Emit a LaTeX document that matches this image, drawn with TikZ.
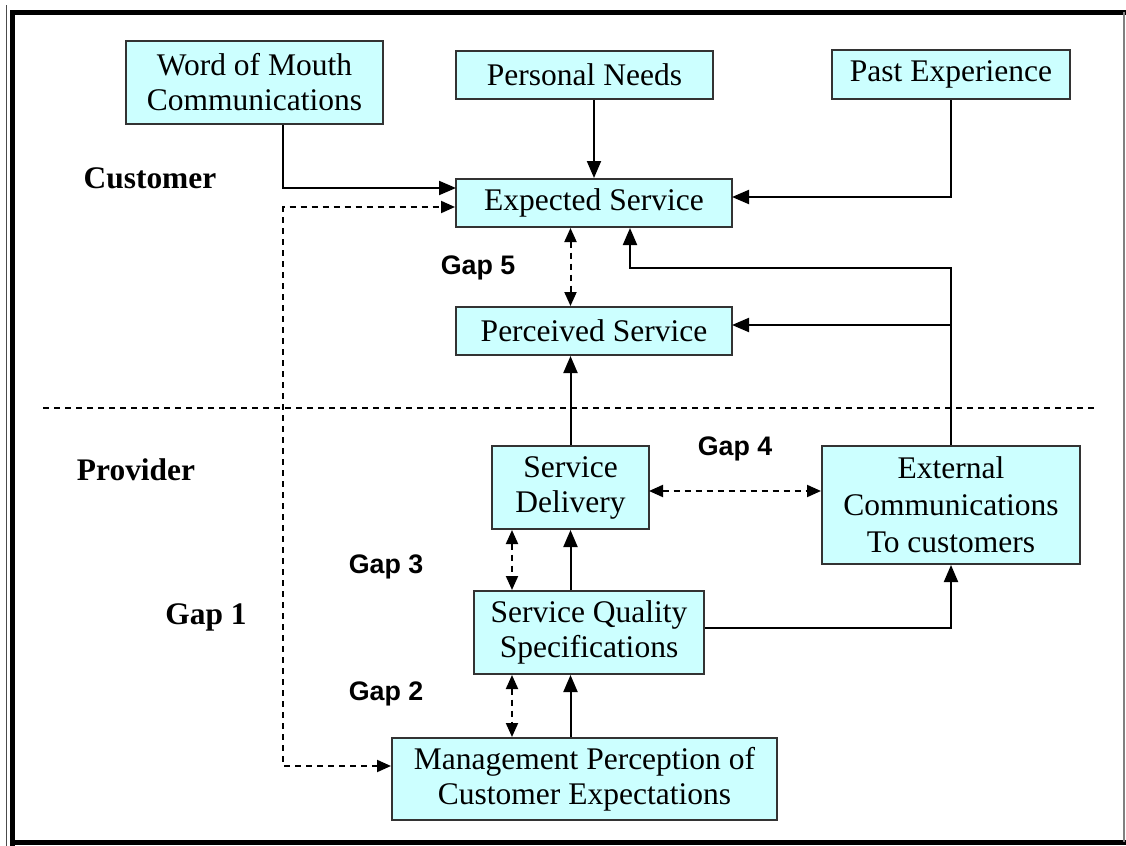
\documentclass[tikz,border=0pt]{standalone}
\usepackage{fontspec}
\setmainfont{Liberation Serif}
\setsansfont{Liberation Sans}
\usetikzlibrary{arrows.meta}
\definecolor{boxfill}{RGB}{204,255,255}

\begin{document}
\begin{tikzpicture}[x=0.5pt,y=-0.5pt,
    box/.style={draw=black!80,line width=1pt,fill=boxfill,inner sep=0pt,align=center,
      font=\fontsize{15.75}{17.5}\selectfont},
    conn/.style={line width=1pt,-{Triangle[length=8.5pt,width=7pt]}},
    gapline/.style={line width=1pt,dash pattern=on 3pt off 2.5pt,
      {Triangle[length=7pt,width=6pt]}-{Triangle[length=7pt,width=6pt]}},
    gaplabel/.style={font=\sffamily\bfseries\fontsize{13.4}{15}\selectfont},
    sidelabel/.style={font=\bfseries\fontsize{15.7}{17.5}\selectfont}]
  \useasboundingbox (0,0) rectangle (1126,846);
  % frame
  \draw[line width=2.5pt] (12.5,846) -- (12.5,12.5) -- (1126,12.5);
  \draw[line width=2.5pt] (12.5,842) -- (1126,842);
  \draw[line width=0.8pt,black!70] (6.5,5) -- (6.5,846);
  \draw[line width=0.8pt,black!50] (1124,12) -- (1124,842);
  % customer / provider split
  \draw[line width=1pt,dash pattern=on 3pt off 2.5pt] (43,408) -- (1098,408);

  \node[box,minimum width=128.5pt,minimum height=41.5pt] (wom) at (254.5,82.5) {Word of Mouth\\Communications};
  \node[box,minimum width=128.5pt,minimum height=24pt] (needs) at (584.5,75) {Personal Needs};
  \node[box,minimum width=119pt,minimum height=24.5pt] (past) at (951,74.5) {Past Experience};
  \node[box,minimum width=138pt,minimum height=24pt] (expected) at (594,203) {Expected Service};
  \node[box,minimum width=138pt,minimum height=24pt] (perceived) at (594,331) {Perceived Service};
  \node[box,minimum width=78.5pt,minimum height=41.5pt] (delivery) at (570.5,487.5) {Service\\Delivery};
  \node[box,minimum width=129pt,minimum height=59pt,font=\fontsize{15.75}{18.5}\selectfont] (extcomm) at (951,505) {External\\Communications\\To customers};
  \node[box,minimum width=115pt,minimum height=41.5pt] (sqs) at (589,632.5) {Service Quality\\Specifications};
  \node[box,minimum width=192.5pt,minimum height=41pt] (mgmt) at (584.5,779) {Management Perception of\\Customer Expectations};

  \node[sidelabel] (cust) at (150,178) {Customer};
  \node[sidelabel] (prov) at (136,470) {Provider};
  \node[sidelabel] (gap1) at (206,617) {Gap 1};
  \node[gaplabel] (gap5) at (478,268) {Gap 5};
  \node[gaplabel] (gap4) at (735,449) {Gap 4};
  \node[gaplabel] (gap3) at (386,567) {Gap 3};
  \node[gaplabel] (gap2) at (386,694) {Gap 2};

  \coordinate (womin) at (456,188);
  \coordinate (g1top) at (283,207);
  \coordinate (pastin) at (732,197);
  \coordinate (fback) at (630,268);
  \coordinate (pcvin) at (732,325);
  \coordinate (gfour) at (649,491);
  \coordinate (gx) at (512,560);

  % into expected service
  \draw[conn] ([xshift=14.25pt]wom.south) |- (womin);
  \draw[conn] (needs.south -| expected.north) -- (expected.north);
  \draw[conn] (past.south) |- (pastin);
  \draw[conn] (extcomm.north) |- (fback) -- (fback |- expected.south);
  \draw[conn] (extcomm.north |- pcvin) -- (pcvin);
  % provider side
  \draw[conn] (delivery.north) -- (delivery.north |- perceived.south);
  \draw[conn] (delivery.south |- sqs.north) -- (delivery.south);
  \draw[conn] (delivery.south |- mgmt.north) -- (delivery.south |- sqs.south);
  \draw[conn] ([yshift=2.25pt]sqs.east) -| (extcomm.south);
  % gaps
  \draw[gapline] ([yshift=6.5pt]mgmt.west) -| (g1top) -- (g1top -| expected.west);
  \draw[gapline] (delivery.north |- expected.south) -- (delivery.north |- perceived.north);
  \draw[gapline] (gfour) -- (gfour -| extcomm.west);
  \draw[gapline] (gx |- delivery.south) -- (gx |- sqs.north);
  \draw[gapline] (gx |- sqs.south) -- (gx |- mgmt.north);
\end{tikzpicture}
\end{document}
